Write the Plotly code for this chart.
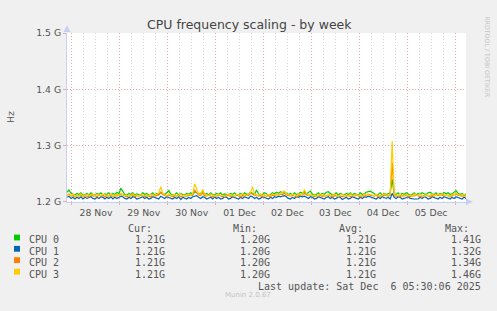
import plotly.graph_objects as go
import pandas as pd

# ---------------- data (MHz, hourly samples) ----------------
start_time = "2025-11-27 21:30:00"
end_time = "2025-12-06 05:30:00"
n_points = 201

names = ["CPU 0", "CPU 1", "CPU 2", "CPU 3"]
colors = ["#00CC00", "#0066B3", "#FF8000", "#FFCC00"]

cpu0 = [1217,1221,1215,1213,1212,1215,1213,1216,1212,1213,1215,1212,1216,1213,1212,1215,1213,1216,1212,1214,
        1213,1216,1212,1215,1213,1217,1214,1224,1219,1213,1212,1215,1213,1216,1212,1214,1213,1212,1216,1213,
        1215,1212,1213,1216,1212,1215,1213,1217,1214,1213,1216,1220,1214,1212,1213,1216,1212,1215,1213,1212,
        1215,1213,1216,1212,1218,1216,1214,1215,1218,1213,1215,1212,1216,1213,1212,1215,1213,1216,1212,1214,
        1213,1212,1215,1213,1216,1212,1213,1215,1212,1216,1213,1214,1217,1215,1213,1221,1214,1212,1213,1216,
        1214,1212,1213,1216,1214,1217,1215,1218,1216,1218,1215,1213,1215,1212,1216,1213,1214,1217,1215,1218,
        1214,1216,1219,1214,1212,1213,1216,1212,1215,1213,1217,1218,1214,1212,1213,1216,1212,1215,1213,1212,
        1215,1213,1216,1212,1215,1213,1212,1216,1213,1214,1217,1218,1219,1217,1214,1212,1213,1216,1212,1215,
        1213,1214,1216,1240,1214,1213,1216,1212,1215,1213,1216,1214,1212,1213,1216,1212,1215,1213,1216,1214,
        1213,1216,1217,1214,1213,1216,1212,1215,1213,1217,1214,1216,1213,1214,1217,1220,1215,1213,1215,1212,
        1214]

cpu1 = [1208,1210,1206,1208,1205,1208,1206,1209,1205,1208,1206,1208,1209,1206,1205,1208,1206,1209,1208,1205,
        1208,1206,1209,1205,1208,1206,1208,1210,1209,1206,1205,1208,1206,1209,1208,1205,1206,1208,1209,1206,
        1208,1205,1206,1209,1208,1206,1205,1210,1208,1206,1209,1208,1206,1205,1208,1206,1209,1204,1208,1206,
        1205,1208,1206,1209,1210,1211,1208,1206,1209,1208,1205,1206,1208,1205,1209,1206,1208,1205,1206,1209,
        1208,1205,1206,1209,1208,1206,1205,1208,1206,1209,1208,1206,1210,1209,1206,1208,1205,1206,1209,1208,
        1206,1205,1208,1206,1209,1208,1210,1209,1210,1211,1209,1206,1205,1208,1206,1209,1208,1210,1209,1210,
        1208,1206,1209,1208,1205,1206,1209,1208,1206,1205,1208,1209,1206,1208,1205,1206,1209,1208,1204,1206,
        1208,1205,1206,1209,1208,1206,1205,1208,1206,1209,1208,1210,1209,1208,1206,1205,1208,1206,1209,1208,
        1206,1208,1205,1215,1208,1206,1209,1208,1205,1206,1208,1209,1206,1205,1205,1205,1205,1208,1206,1209,
        1208,1205,1206,1209,1208,1206,1205,1208,1206,1209,1208,1206,1205,1208,1206,1209,1208,1206,1205,1208,
        1206]

cpu2 = [1212,1214,1210,1211,1209,1211,1210,1212,1209,1211,1210,1209,1212,1210,1211,1209,1212,1210,1211,1209,
        1211,1210,1212,1209,1211,1210,1212,1214,1212,1210,1209,1211,1210,1212,1209,1211,1210,1212,1211,1209,
        1211,1210,1209,1212,1210,1211,1212,1217,1213,1211,1210,1212,1211,1209,1211,1210,1212,1209,1211,1210,
        1210,1212,1211,1213,1221,1216,1212,1211,1216,1211,1210,1212,1211,1209,1211,1210,1212,1211,1209,1211,
        1210,1212,1209,1211,1210,1212,1211,1209,1211,1210,1212,1211,1215,1214,1211,1212,1210,1211,1209,1212,
        1210,1211,1209,1212,1211,1213,1212,1214,1213,1215,1212,1211,1210,1212,1211,1209,1211,1213,1212,1215,
        1212,1211,1213,1211,1209,1211,1210,1212,1209,1211,1210,1212,1211,1209,1211,1210,1212,1211,1209,1211,
        1210,1212,1209,1211,1210,1212,1211,1209,1211,1210,1212,1213,1212,1211,1210,1212,1209,1211,1210,1212,
        1211,1210,1212,1270,1212,1210,1211,1209,1211,1210,1212,1211,1209,1211,1210,1212,1211,1209,1211,1210,
        1212,1211,1209,1211,1210,1212,1211,1213,1211,1210,1212,1211,1209,1211,1212,1214,1212,1211,1210,1211,
        1210]

cpu3 = [1213,1212,1211,1214,1210,1212,1211,1214,1210,1212,1213,1211,1212,1214,1211,1213,1212,1211,1214,1212,
        1212,1211,1214,1210,1212,1213,1211,1215,1213,1211,1212,1210,1212,1214,1211,1212,1210,1213,1212,1211,
        1212,1211,1214,1211,1212,1213,1216,1227,1215,1212,1211,1214,1212,1211,1213,1210,1212,1214,1211,1212,
        1211,1213,1212,1214,1232,1222,1214,1213,1222,1213,1212,1211,1214,1212,1210,1212,1213,1211,1212,1210,
        1212,1214,1211,1212,1210,1213,1212,1211,1214,1212,1211,1214,1216,1227,1213,1212,1211,1214,1212,1210,
        1212,1213,1211,1214,1212,1214,1213,1215,1216,1219,1214,1212,1211,1213,1212,1211,1214,1214,1213,1222,
        1214,1212,1213,1211,1212,1210,1212,1214,1211,1212,1210,1213,1212,1211,1214,1212,1210,1212,1213,1211,
        1212,1210,1214,1211,1212,1213,1211,1212,1210,1214,1212,1214,1213,1212,1211,1213,1212,1210,1212,1214,
        1212,1211,1214,1308,1213,1212,1211,1214,1210,1212,1213,1211,1212,1210,1214,1212,1211,1213,1212,1210,
        1213,1211,1212,1214,1212,1211,1214,1212,1214,1213,1211,1212,1210,1213,1212,1216,1213,1212,1211,1214,
        1211]

series = [cpu0, cpu1, cpu2, cpu3]

cur_vals = ["1.21G", "1.21G", "1.21G", "1.21G"]
min_vals = ["1.20G", "1.20G", "1.20G", "1.20G"]
avg_vals = ["1.21G", "1.21G", "1.21G", "1.21G"]
max_vals = ["1.41G", "1.32G", "1.34G", "1.46G"]

y_tickvals = [1.2e9, 1.3e9, 1.4e9, 1.5e9]
y_ticktext = ["1.2 G", "1.3 G", "1.4 G", "1.5 G"]

title_text = "CPU frequency scaling - by week"
y_title = "Hz"
last_update = "Last update: Sat Dec\u00a0\u00a06 05:30:06 2025"
credit = "RRDTOOL / TOBI OETIKER"
version = "Munin 2.0.67"

# ---------------- figure ----------------
W, H = 497, 311
def px(x): return x / W
def py(y): return 1 - y / H

times = pd.date_range(start_time, periods=n_points, freq="1h")

fig = go.Figure()
for name, color, vals in zip(names, colors, series):
    fig.add_trace(go.Scatter(x=times, y=[v * 1e6 for v in vals], mode="lines",
                             name=name, line=dict(color=color, width=1.2),
                             showlegend=False, hoverinfo="skip"))

major_grid = "#e6aaaa"
minor_grid = "#d9d9d9"
axis_col = "#c8d0f2"
txt = "#555555"
sans = "DejaVu Sans"
mono = "DejaVu Sans Mono"
dots = "1px,2px"

fig.update_layout(
    width=W, height=H, margin=dict(l=0, r=0, t=0, b=0),
    paper_bgcolor="#F0F0F0", plot_bgcolor="#FFFFFF",
    xaxis=dict(domain=[px(67), px(466)], type="date", range=[start_time, end_time],
               tick0="2025-11-28", dtick=86400000, tickformat="%d %b", ticklabelmode="period",
               showgrid=True, gridcolor=major_grid, griddash=dots, gridwidth=1,
               tickfont=dict(family=sans, size=9.3, color=txt),
               showline=True, linecolor=axis_col, linewidth=1,
               ticks="outside", ticklen=2, tickcolor=major_grid,
               minor=dict(dtick=21600000, tick0="2025-11-28", showgrid=True,
                          gridcolor=minor_grid, griddash=dots, ticks=""),
               zeroline=False, fixedrange=True),
    yaxis=dict(domain=[py(203), py(28)], range=[1.2e9, 1.5e9],
               tickvals=y_tickvals, ticktext=y_ticktext,
               showgrid=True, gridcolor=major_grid, griddash=dots, gridwidth=1,
               tickfont=dict(family=sans, size=9.3, color=txt),
               showline=True, linecolor=axis_col, linewidth=1,
               ticks="outside", ticklen=3, tickcolor=major_grid,
               zeroline=False, fixedrange=True),
)

ann = []
ann.append(dict(x=px(250), y=py(19), text=title_text, xanchor="center", yanchor="middle",
                font=dict(family=sans, size=12.5, color="#444444")))
ann.append(dict(x=px(11), y=py(115), text=y_title, textangle=-90, xanchor="center", yanchor="middle",
                font=dict(family=sans, size=9.3, color=txt)))
ann.append(dict(x=px(488), y=py(53), text=credit, textangle=90, xanchor="center", yanchor="middle",
                font=dict(family=sans, size=6.3, color="#c4c4c4")))
ann.append(dict(x=px(248), y=py(300), text=version, xanchor="center", yanchor="middle",
                font=dict(family=sans, size=7, color="#c4c4c4")))

headers = ["Cur:", "Min:", "Avg:", "Max:"]
head_right = [153.5, 259, 365, 471]
val_right = [166.7, 272, 378, 483]
row_ref = [240, 251.7, 263.4, 275.4]
text_shift = 2.5
for h, xr in zip(headers, head_right):
    ann.append(dict(x=px(xr), y=py(228.3 + text_shift), text=h, xanchor="right", yanchor="middle",
                    font=dict(family=mono, size=10, color=txt)))
cols = [cur_vals, min_vals, avg_vals, max_vals]
shapes = []
for i, (name, color) in enumerate(zip(names, colors)):
    yy = row_ref[i]
    shapes.append(dict(type="rect", xref="paper", yref="paper",
                       x0=px(14), x1=px(20), y0=py(yy - 3), y1=py(yy + 3),
                       fillcolor=color, line=dict(width=0)))
    ann.append(dict(x=px(26.5), y=py(yy + text_shift), text=name, xanchor="left", yanchor="middle",
                    font=dict(family=mono, size=10, color=txt)))
    for col, xr in zip(cols, val_right):
        ann.append(dict(x=px(xr), y=py(yy + text_shift), text=col[i], xanchor="right", yanchor="middle",
                        font=dict(family=mono, size=10, color=txt)))
ann.append(dict(x=px(483), y=py(288 + text_shift + 0.5), text=last_update, xanchor="right", yanchor="middle",
                font=dict(family=mono, size=10, color=txt)))

for a in ann:
    a.update(xref="paper", yref="paper", showarrow=False)

# axis arrows
shapes.append(dict(type="path", xref="paper", yref="paper",
                   path=f"M {px(63.5)} {py(27)} L {px(70.5)} {py(27)} L {px(67)} {py(20)} Z",
                   fillcolor=axis_col, line=dict(width=0)))
shapes.append(dict(type="path", xref="paper", yref="paper",
                   path=f"M {px(466)} {py(199.5)} L {px(466)} {py(206.5)} L {px(473)} {py(203)} Z",
                   fillcolor=axis_col, line=dict(width=0)))

fig.update_layout(annotations=ann, shapes=shapes)
fig.write_html("out.html")
